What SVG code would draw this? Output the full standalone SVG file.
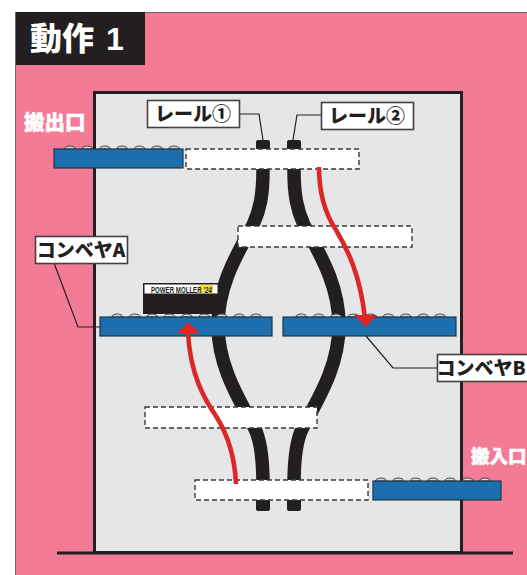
<svg xmlns="http://www.w3.org/2000/svg" width="527" height="575" viewBox="0 0 527 575">
<defs>
<style>
text{font-family:"Noto Sans CJK JP","Liberation Sans",sans-serif;font-weight:900}
.rail{fill:none;stroke:#231f20;stroke-width:13.500}
.cap{fill:#231f20}
.slot{fill:#fff;stroke:#3a3a3c;stroke-width:1.400;stroke-dasharray:5 3}
.belt{fill:#1b6fae;stroke:#263640;stroke-width:1.200}
.roller{fill:#d8d9db;stroke:#444;stroke-width:1}
.lab{fill:#fff;stroke:#414042;stroke-width:1.600}
.lt{font-size:19px;fill:#231f20;text-anchor:middle}
.port{fill:#fff;stroke:#fff;stroke-width:.5}
.lead{fill:none;stroke:#231f20;stroke-width:1.200}
.flow{fill:none;stroke:#dc2728;stroke-width:4.600}
.head{fill:#dc2728}
</style>
<path id="r7" class="roller" d="M-5.500 0a5.500 3 0 0 1 11 0z"/>
</defs>
<rect width="527" height="575" fill="#fff"/>
<rect x="15.500" y="12.500" width="520" height="570" fill="#f47b96" stroke="#6b6466" stroke-width="1"/>
<g id="title">
<rect x="16" y="12" width="129" height="53" fill="#231f20"/>
<text x="30" y="50" font-size="32" fill="#fff">動作</text>
<text x="106" y="50" font-size="32" fill="#fff" style="font-family:'Liberation Sans',sans-serif;font-weight:700">1</text>
</g>
<g id="room">
<rect x="94.500" y="92.500" width="367" height="460" fill="#e5e6e8" stroke="#231f20" stroke-width="3"/>
<line x1="57" y1="553" x2="513" y2="553" stroke="#231f20" stroke-width="3"/>
</g>
<g id="rails">
<rect class="cap" x="256" y="140" width="14" height="12" rx="2"/>
<rect class="cap" x="287" y="140" width="14" height="12" rx="2"/>
<rect class="cap" x="256" y="498" width="14" height="13" rx="2"/>
<rect class="cap" x="287" y="498" width="14" height="13" rx="2"/>
<path id="rail1" class="rail" d="M263 150V170C263 195 260 210 253 225C232 262 218 290 218 325C218 360 232 388 254 427C260 438 263 460 263 485V505"/>
<path id="rail2" class="rail" d="M294 150V170C294 195 297 210 304 225C325 262 339 290 339 325C339 360 325 388 303 427C297 438 294 460 294 485V505"/>
</g>
<g id="slot-top"><rect class="slot" x="186" y="149" width="173" height="20"/></g>
<g id="slot-upper"><rect class="slot" x="238" y="226" width="174" height="21"/></g>
<g id="slot-lower"><rect class="slot" x="145" y="407" width="172" height="21"/></g>
<g id="slot-bottom"><rect class="slot" x="195" y="480" width="173" height="20"/></g>
<g id="power-moller">
<rect x="143" y="283" width="76" height="31" fill="#231f20"/>
<rect x="144.500" y="284.500" width="73" height="9" fill="#fff"/>
<rect x="199" y="285" width="14" height="8" fill="#f2e33c"/>
<text transform="translate(151 292.500) scale(.68 1)" font-size="9" fill="#231f20" style="font-family:'Liberation Sans',sans-serif;font-weight:700">POWER MOLLER <tspan font-style="italic">’24</tspan></text>
</g>
<g id="conveyor-exit">
<use href="#r7" x="70" y="149"/><use href="#r7" x="87.300" y="149"/><use href="#r7" x="105" y="149"/><use href="#r7" x="122" y="149"/><use href="#r7" x="139.500" y="149"/><use href="#r7" x="157" y="149"/><use href="#r7" x="174" y="149"/>
<rect class="belt" x="54" y="149" width="129" height="19"/>
</g>
<g id="conveyor-a">
<use href="#r7" x="117.300" y="317"/><use href="#r7" x="134.700" y="317"/><use href="#r7" x="152.100" y="317"/><use href="#r7" x="169.500" y="317"/><use href="#r7" x="186.900" y="317"/><use href="#r7" x="204.300" y="317"/><use href="#r7" x="221.700" y="317"/><use href="#r7" x="239.100" y="317"/><use href="#r7" x="256" y="317"/>
<rect class="belt" x="100" y="317" width="172" height="19"/>
</g>
<g id="conveyor-b">
<use href="#r7" x="301.300" y="317"/><use href="#r7" x="318.700" y="317"/><use href="#r7" x="336.100" y="317"/><use href="#r7" x="353.500" y="317"/><use href="#r7" x="370.900" y="317"/><use href="#r7" x="388.300" y="317"/><use href="#r7" x="405.700" y="317"/><use href="#r7" x="423.100" y="317"/><use href="#r7" x="440" y="317"/>
<rect class="belt" x="283" y="317" width="173" height="19"/>
</g>
<g id="conveyor-entry">
<use href="#r7" x="381" y="481"/><use href="#r7" x="398.300" y="481"/><use href="#r7" x="415.700" y="481"/><use href="#r7" x="433" y="481"/><use href="#r7" x="450.300" y="481"/><use href="#r7" x="467.700" y="481"/><use href="#r7" x="485" y="481"/>
<rect class="belt" x="373" y="481" width="128" height="19"/>
</g>
<g id="connectors">
<path class="flow" d="M319 167C319 195 326 215 336 230C348 250 360 275 365 318"/>
<path class="head" d="M354 315H377L366 327Z"/>
<path class="flow" d="M236 484C235 460 228 435 216 416C205 400 190 375 188 332"/>
<path class="head" d="M177 334H200L188 322Z"/>
<path class="lead" d="M239 114H259L263 140"/>
<path class="lead" d="M321 115H297L293 140"/>
<path class="lead" d="M54 263L78 327H100"/>
<path class="lead" d="M366 336L393 368H437"/>
</g>
<g id="label-rail1"><rect class="lab" x="147.500" y="100.500" width="92" height="27"/><text class="lt" x="193" y="120.500">レール①</text></g>
<g id="label-rail2"><rect class="lab" x="321.500" y="102.500" width="92" height="27"/><text class="lt" x="367" y="122.500">レール②</text></g>
<g id="label-a"><rect class="lab" x="35.500" y="236.500" width="92" height="27"/><text class="lt" x="81" y="256.500">コンベヤA</text></g>
<g id="label-b"><rect class="lab" x="437.500" y="354.500" width="100" height="27"/><text class="lt" x="481" y="374.500">コンベヤB</text></g>
<g id="port-exit"><text class="port" x="24" y="130" font-size="20.500">搬出口</text></g>
<g id="port-entry"><text class="port" x="471" y="463" font-size="18.500">搬入口</text></g>
</svg>
